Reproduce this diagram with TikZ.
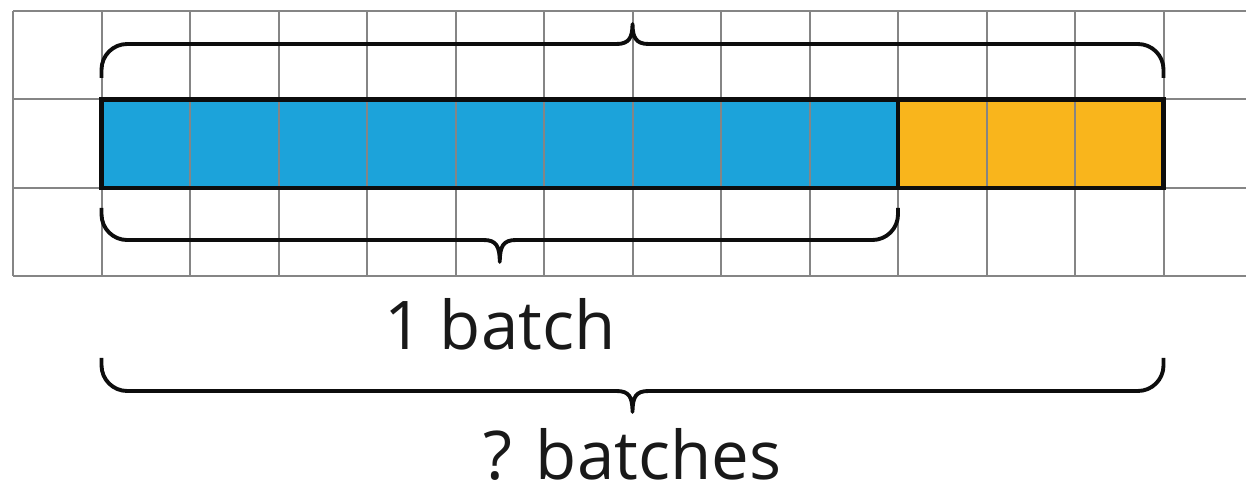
\documentclass[tikz,border=0pt]{standalone}
\usepackage{fontspec}
\setmainfont{Open Sans}
\definecolor{barblue}{HTML}{1CA3DA}
\definecolor{barorange}{HTML}{F9B51C}
\definecolor{gridgray}{HTML}{858585}
\tikzset{
  gridline/.style={draw=gridgray, line width=0.65pt},
  barcell/.style={draw=gridgray, line width=0.65pt},
  barframe/.style={draw=black!95, line width=1.5pt},
  bracepath/.style={draw=black!95, line width=1.25pt, line cap=butt, line join=round},
  lbl/.style={font=\fontsize{21.6}{26}\selectfont, text=black!90, anchor=base, inner sep=0pt, text depth=0pt}
}
\begin{document}
\begin{tikzpicture}[x=1cm,y=1cm]
\useasboundingbox (-0.147,0.124) rectangle (13.932,-5.435);
% grid
\foreach \r in {0,-1,-2,-3} \draw[gridline] (0,\r) -- (13.932,\r);
\foreach \c in {0,...,13} \draw[gridline] (\c,0) -- (\c,-3);
% bar cells
\fill[barblue] (1,-1) rectangle (10,-2);
\fill[barorange] (10,-1) rectangle (13,-2);
\foreach \c in {2,...,12} \draw[barcell] (\c,-1) -- (\c,-2);
\node[barframe, minimum width=12cm, minimum height=1cm, inner sep=0pt, outer sep=0pt, anchor=north west] (bar) at (1,-1) {};
\draw[barframe] (10,-1) -- (10,-2);
% top brace (tip up)
\coordinate (tA) at (1,-0.757);
\coordinate (tB) at (13,-0.757);
\draw[bracepath] (tA) -- (1,-0.663) arc[start angle=180,end angle=90,radius=0.29]
  -- (6.82,-0.373) .. controls (6.96,-0.373) and (7,-0.30) .. (7,-0.147)
  .. controls (7,-0.30) and (7.04,-0.373) .. (7.18,-0.373)
  -- (12.71,-0.373) arc[start angle=90,end angle=0,radius=0.29] -- (tB);
% middle brace (tip down)
\coordinate (mA) at (1,-2.226);
\coordinate (mB) at (10,-2.226);
\draw[bracepath] (mA) -- (1,-2.298) arc[start angle=180,end angle=270,radius=0.29]
  -- (5.32,-2.588) .. controls (5.46,-2.588) and (5.5,-2.66) .. (5.5,-2.836)
  .. controls (5.5,-2.66) and (5.54,-2.588) .. (5.68,-2.588)
  -- (9.71,-2.588) arc[start angle=270,end angle=360,radius=0.29] -- (mB);
% bottom brace (tip down)
\coordinate (bA) at (1,-3.921);
\coordinate (bB) at (13,-3.921);
\draw[bracepath] (bA) -- (1,-4.004) arc[start angle=180,end angle=270,radius=0.29]
  -- (6.82,-4.294) .. controls (6.96,-4.294) and (7,-4.36) .. (7,-4.531)
  .. controls (7,-4.36) and (7.04,-4.294) .. (7.18,-4.294)
  -- (12.71,-4.294) arc[start angle=270,end angle=360,radius=0.29] -- (bB);
% labels
\node[lbl] (one) at (5.5,-3.83) {1 batch};
\node[lbl] (many) at (7,-5.29) {? batches};
\end{tikzpicture}
\end{document}
